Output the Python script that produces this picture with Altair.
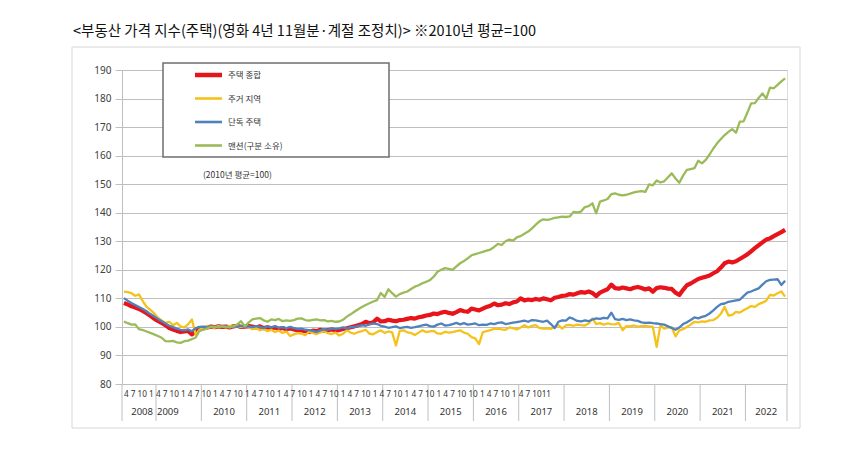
import altair as alt
import pandas as pd

# ---------------- data ----------------
title_text = "<부동산 가격 지수(주택)(영화 4년 11월분·계절 조정치)> ※2010년 평균=100"
note_text = "(2010년 평균=100)"
series_names = ["주택 종합", "주거 지역", "단독 주택", "맨션(구분 소유)"]

start_year, start_month = 2008, 4
end_year, end_month = 2022, 11

red_vals = [
    108.4, 107.9, 107.2, 106.8, 106.3, 105.6, 104.8, 103.9, 102.9,
    102.1, 101.4, 100.6, 99.6, 99.1, 98.6, 98.2, 98.4, 98.6, 97.4, 98.6, 99.1,
    99.6, 99.8, 100.1, 99.9, 100.2, 100.0, 100.1, 99.8, 100.2, 100.4, 100.0, 100.1,
    100.3, 100.1, 99.8, 100.2, 99.6, 99.9, 99.5, 99.8, 99.3, 99.6, 99.2, 99.5,
    99.1, 98.8, 98.8, 98.5, 98.2, 98.7, 98.5, 99.0, 98.6, 98.9, 99.1, 98.8,
    98.9, 99.3, 99.5, 99.9, 100.2, 100.6, 101.0, 101.8, 101.3, 101.6, 102.9, 101.9,
    102.0, 102.5, 102.2, 102.0, 102.4, 102.5, 102.8, 103.1, 102.9, 103.4, 103.6, 104.0,
    104.2, 104.7, 104.5, 105.0, 105.3, 104.9, 104.6, 105.2, 105.9, 105.5, 105.3, 106.4,
    106.1, 105.8, 106.4, 107.0, 107.4, 108.2, 107.6, 107.8, 108.3, 108.0, 108.6, 108.9,
    110.0, 109.3, 109.6, 109.4, 109.8, 109.5, 110.0, 109.7, 109.3, 110.2, 110.5, 110.9,
    111.0, 111.5, 111.3, 111.8, 112.2, 112.0, 112.4, 111.9, 110.8, 112.0, 112.6, 113.2,
    114.8, 113.6, 113.4, 113.8, 113.5, 113.2, 113.7, 114.0, 113.6, 113.1, 113.5, 112.3,
    113.6, 113.9, 113.7, 113.4, 113.3, 112.0, 111.2, 113.0, 114.6, 115.2, 116.0, 116.8,
    117.2, 117.6, 118.0, 118.8, 119.5, 120.8, 122.3, 122.9, 122.6, 123.0, 123.8, 124.6,
    125.4, 126.5, 127.6, 128.6, 129.6, 130.6, 131.0, 131.8, 132.5, 133.2, 134.0,
]

yellow_vals = [
    112.4, 112.2, 111.8, 110.9, 111.4, 109.0, 107.0, 106.0, 104.8,
    103.2, 102.3, 101.4, 101.8, 100.6, 101.4, 100.2, 99.8, 100.9, 102.6, 97.3, 99.0,
    99.8, 100.2, 100.0, 99.7, 100.3, 100.1, 99.8, 100.4, 100.0, 100.2, 99.9, 100.3,
    100.0, 99.2, 99.6, 98.8, 99.3, 98.5, 99.0, 98.2, 98.7, 97.9, 98.4, 96.8,
    97.4, 97.8, 97.6, 97.1, 98.3, 97.9, 97.5, 98.1, 98.4, 97.8, 97.5, 98.0,
    97.0, 97.6, 98.8, 98.0, 97.6, 98.2, 98.5, 99.0, 97.6, 97.4, 98.2, 98.8,
    97.9, 98.4, 98.1, 93.5, 98.6, 98.8, 98.1, 97.9, 97.2, 98.0, 98.8, 98.2,
    98.4, 98.6, 97.7, 97.6, 98.3, 98.0, 98.2, 98.5, 98.8, 98.0, 97.6, 96.4,
    96.0, 94.0, 98.2, 98.5, 98.9, 99.3, 99.4, 99.1, 99.0, 99.8, 99.6, 99.1,
    99.8, 100.6, 99.8, 100.4, 100.6, 99.6, 99.4, 99.5, 99.3, 100.0, 100.6, 99.4,
    100.5, 100.7, 100.4, 100.8, 100.6, 100.5, 101.2, 103.0, 101.0, 101.3, 100.8, 101.2,
    101.0, 100.9, 101.4, 98.8, 100.3, 100.2, 100.5, 100.1, 100.3, 100.4, 100.2, 100.0,
    93.0, 100.6, 99.4, 99.8, 99.9, 96.7, 98.8, 99.2, 100.0, 100.8, 101.8, 101.6,
    101.9, 101.8, 102.3, 102.4, 103.2, 104.6, 107.0, 104.0, 104.2, 105.3, 105.0, 105.8,
    106.5, 107.3, 107.0, 108.0, 108.5, 109.2, 111.2, 111.0, 111.8, 112.4, 110.6,
]

blue_vals = [
    110.1, 109.2, 108.4, 107.7, 107.0, 106.3, 105.5, 104.5, 103.7,
    102.8, 102.0, 101.2, 100.4, 99.9, 99.4, 99.0, 98.8, 99.1, 98.5, 99.6, 100.0,
    100.1, 99.8, 100.2, 100.0, 99.9, 100.3, 100.1, 99.8, 100.2, 100.0, 100.4, 100.1,
    100.2, 99.9, 100.3, 100.0, 99.6, 100.2, 99.8, 100.3, 99.7, 99.9, 99.5, 100.0,
    99.6, 99.3, 99.4, 99.0, 98.9, 98.6, 98.2, 98.8, 99.2, 99.0, 99.5, 99.3,
    99.5, 99.8, 99.4, 99.9, 100.0, 100.3, 100.6, 100.4, 100.9, 101.2, 101.0, 100.4,
    100.1, 99.7, 99.9, 100.2, 99.6, 99.8, 100.0, 99.7, 99.9, 100.2, 100.5, 100.8,
    100.3, 100.1, 100.8, 101.2, 100.5, 100.6, 101.0, 101.4, 100.9, 101.3, 100.8, 101.0,
    101.2, 100.6, 100.8, 100.7, 101.2, 101.0, 101.4, 101.6, 101.0, 101.2, 101.5, 101.7,
    101.9, 102.2, 101.8, 102.4, 102.3, 102.0, 101.8, 102.2, 101.0, 99.6, 101.8, 102.3,
    102.2, 103.3, 102.8, 102.1, 101.9, 102.3, 102.0, 102.6, 103.0, 102.8, 103.2, 103.0,
    105.0, 102.7, 102.5, 102.8, 102.4, 102.6, 102.3, 102.1, 101.6, 101.4, 101.5, 101.3,
    101.2, 101.0, 100.8, 100.2, 99.6, 99.0, 99.8, 101.0, 101.6, 102.4, 103.3, 103.0,
    103.5, 103.9, 104.7, 105.8, 107.0, 108.0, 108.2, 108.8, 109.0, 109.3, 109.5, 110.8,
    112.0, 112.4, 113.0, 113.5, 114.8, 116.0, 116.5, 116.6, 116.7, 114.7, 116.2,
]

green_vals = [
    101.9, 101.3, 100.8, 100.9, 99.2, 98.9, 98.4, 97.9, 97.4,
    96.8, 96.2, 95.0, 94.9, 95.1, 94.6, 94.4, 95.0, 95.2, 95.7, 96.3, 98.6,
    99.0, 99.4, 100.0, 100.1, 99.9, 100.2, 100.0, 99.8, 100.3, 100.8, 102.0, 100.2,
    101.5, 102.6, 102.9, 103.1, 102.3, 101.8, 102.6, 102.4, 102.8, 102.0, 102.3, 102.1,
    102.4, 102.9, 103.0, 102.4, 102.2, 102.5, 102.6, 102.3, 102.4, 101.9, 102.1, 101.8,
    101.9, 102.5, 103.6, 104.4, 105.3, 106.2, 107.0, 107.7, 108.3, 108.9, 109.4, 111.9,
    110.5, 113.2, 111.8, 110.6, 111.5, 112.0, 112.4, 113.3, 114.1, 114.6, 115.3, 115.8,
    116.4, 117.6, 119.3, 120.0, 120.6, 120.3, 120.0, 121.2, 122.3, 123.1, 124.0, 125.1,
    125.5, 125.9, 126.3, 126.7, 127.1, 128.0, 129.1, 128.7, 130.0, 130.6, 130.2, 131.4,
    131.8, 132.6, 133.4, 134.5, 135.8, 137.0, 137.7, 137.5, 137.8, 138.2, 138.4, 138.6,
    138.5, 138.7, 140.3, 140.1, 140.4, 142.0, 142.3, 143.3, 139.8, 143.9, 144.3, 144.8,
    146.5, 146.8, 146.3, 146.1, 146.3, 146.7, 147.1, 147.4, 147.6, 147.3, 149.9, 149.6,
    151.3, 150.6, 151.0, 152.4, 153.8, 152.0, 150.5, 153.0, 155.0, 155.3, 155.6, 158.2,
    157.3, 158.5, 160.4, 162.5, 164.3, 165.8, 167.2, 168.3, 169.3, 168.0, 171.9, 172.0,
    175.0, 178.3, 178.4, 180.2, 181.8, 180.0, 183.8, 183.6, 184.8, 186.0, 187.1,
]

month_labels = [
    "4", "7", "10", "1", "4",
    "7", "10", "1", "4", "7",
    "10", "1", "4", "7", "10", "1",
    "4", "7", "10", "1", "4", "7",
    "10", "1", "4", "7", "10",
    "1", "4", "7", "10", "1", "4",
    "7", "10", "1", "4", "7", "10",
    "1", "4", "7", "10", "10",
    "1", "4", "7", "10", "1", "4",
    "7", "10", "11",
]

y_ticks = [80, 90, 100, 110, 120, 130, 140, 150, 160, 170, 180, 190]

# ---------------- build tables ----------------
months = []
y, mo = start_year, start_month
while (y, mo) <= (end_year, end_month):
    months.append((y, mo))
    mo += 1
    if mo > 12:
        mo, y = 1, y + 1
n = len(months)
for arr in (red_vals, yellow_vals, blue_vals, green_vals):
    assert len(arr) == n, (len(arr), n)

all_vals = [red_vals, yellow_vals, blue_vals, green_vals]
colors = ["#e8141b", "#f5c21b", "#4f81bd", "#9bbb59"]
widths = [4.2, 2.3, 2.3, 2.3]

# year cells (boundaries in month-index units)
years = sorted(set(yy for yy, _ in months))
bounds = [-0.5]
for yy in years[1:]:
    bounds.append(months.index((yy, 1)) - 0.5)
bounds.append(n - 0.5)
year_df = pd.DataFrame({
    "yl": [str(yy) for yy in years],
    "s": [bounds[i] for i in range(len(years))],
    "e": [bounds[i + 1] for i in range(len(years))],
    "c": [(bounds[i] + bounds[i + 1]) / 2 for i in range(len(years))],
})
sep_df = pd.DataFrame({"b": bounds})
month_string = " ".join(month_labels[:-1]) + month_labels[-1]

W, H = 665, 314
xscale = alt.Scale(domain=[-0.5, n - 0.5], nice=False, zero=False)
yscale = alt.Scale(domain=[80, 190], nice=False, zero=False)
yaxis = alt.Axis(values=y_ticks, grid=True, gridColor="#bfbfbf", gridWidth=1,
                 domain=True, domainColor="#bfbfbf", ticks=True, tickColor="#bfbfbf",
                 tickSize=7, labelPadding=4, labelFontSize=10, labelColor="#404040",
                 labelFont="Noto Sans", title=None)

one = pd.DataFrame({"d": [0]})
FONT = "Noto Sans CJK KR"
AXF = "Noto Sans"

frame = alt.Chart(one).mark_rect(fillOpacity=0, stroke="#d6d6d6", strokeWidth=1).encode(
    x=alt.value(-50), x2=alt.value(678), y=alt.value(-23), y2=alt.value(358))

title = alt.Chart(one).mark_text(align="left", baseline="middle", fontSize=14.5,
                                 font=FONT, color="#111111").encode(
    x=alt.value(-49), y=alt.value(-38), text=alt.value(title_text))

layers = [frame, title]

# series lines: first series drawn at the bottom
for i in range(4):
    df = pd.DataFrame({"m": list(range(n)), "v": all_vals[i]})
    layers.append(alt.Chart(df).mark_line(color=colors[i], strokeWidth=widths[i],
                                          strokeJoin="round").encode(
        x=alt.X("m:Q", scale=xscale, axis=None),
        y=alt.Y("v:Q", scale=yscale, axis=yaxis)))

# x axis: year separators, month labels, year labels
layers.append(alt.Chart(sep_df).mark_rule(color="#bfbfbf", strokeWidth=1).encode(
    x=alt.X("b:Q", scale=xscale, axis=None), y=alt.value(H), y2=alt.value(H + 37)))
layers.append(alt.Chart(one).mark_text(fontSize=8.2, font=AXF, color="#333333",
                                       baseline="middle", align="left").encode(
    x=alt.value(2), y=alt.value(H + 11), text=alt.value(month_string)))
layers.append(alt.Chart(year_df.iloc[[0]]).mark_text(
    fontSize=9.5, font=AXF, color="#333333", baseline="middle", align="right", dx=-3).encode(
    x=alt.X("e:Q", scale=xscale, axis=None), y=alt.value(H + 28), text="yl:N"))
layers.append(alt.Chart(year_df.iloc[[1]]).mark_text(
    fontSize=9.5, font=AXF, color="#333333", baseline="middle", align="left", dx=1).encode(
    x=alt.X("s:Q", scale=xscale, axis=None), y=alt.value(H + 28), text="yl:N"))
layers.append(alt.Chart(year_df.iloc[2:]).mark_text(
    fontSize=9.5, font=AXF, color="#333333", baseline="middle", align="center").encode(
    x=alt.X("c:Q", scale=xscale, axis=None), y=alt.value(H + 28), text="yl:N"))

# legend box
layers.append(alt.Chart(one).mark_rect(fill="white", stroke="#6e6e6e", strokeWidth=1.5).encode(
    x=alt.value(41), x2=alt.value(267), y=alt.value(-7), y2=alt.value(87)))
for i in range(4):
    yy = 5 + 23.5 * i
    layers.append(alt.Chart(one).mark_rule(color=colors[i], strokeWidth=widths[i] + 0.3).encode(
        x=alt.value(73), x2=alt.value(100), y=alt.value(yy)))
    layers.append(alt.Chart(one).mark_text(align="left", baseline="middle", fontSize=8.5,
                                           font=FONT, color="#333333").encode(
        x=alt.value(106), y=alt.value(yy), text=alt.value(series_names[i])))
layers.append(alt.Chart(one).mark_text(align="left", baseline="middle", fontSize=8.5,
                                       font=FONT, color="#333333").encode(
    x=alt.value(81), y=alt.value(105), text=alt.value(note_text)))

chart = alt.layer(*layers).properties(
    width=W, height=H,
    autosize=alt.AutoSizeParams(type="none"),
    padding={"left": 114, "top": 62, "right": 40, "bottom": 60},
).configure_view(stroke=None).configure(background="white")

chart.save("out.html", embed_options={"renderer": "svg", "actions": False})
